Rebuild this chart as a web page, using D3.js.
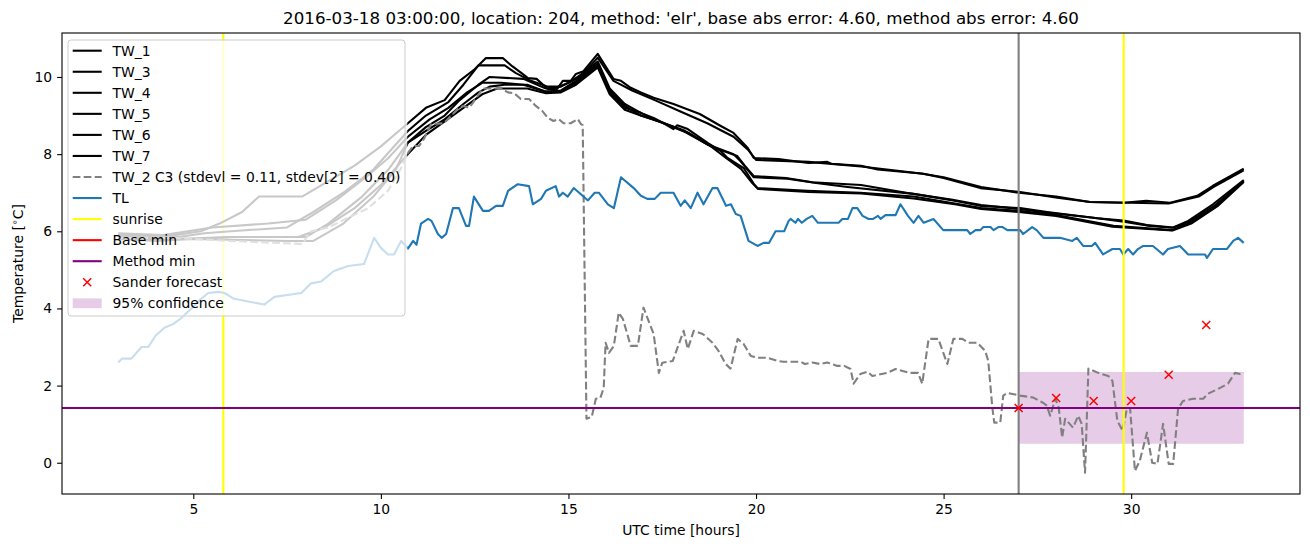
<!DOCTYPE html>
<html>
<head>
<meta charset="utf-8">
<script src="https://cdn.jsdelivr.net/npm/d3@7"></script>
<style>
  body { margin: 0; background: #fff; }
  text { font-family: "DejaVu Sans", sans-serif; fill: #000; }
</style>
</head>
<body>
<div id="VisContainer"></div>
<script>
// ---- data: [hour, temperature] ----
tw1 = [[3,5.9],[4.5,5.9],[5.2,6.0],[5.7,6.2],[6.3,6.5],[6.75,6.9],[7.9,6.9],[8.6,7.3],[9.3,7.7],[10.0,8.2],[10.72,8.8],[11.2,9.2],[11.7,9.4],[12.1,9.9],[12.5,10.2],[12.8,10.49],[13.25,10.49],[13.5,10.28],[13.75,10.1],[13.92,9.97],[14.15,9.95],[14.45,9.69],[14.7,9.69],[14.85,9.9],[15.06,9.9],[15.2,10.08],[15.4,10.15],[15.78,10.6],[16.2,9.95],[16.4,9.9],[16.66,9.72],[16.93,9.6],[17.27,9.46],[17.8,9.3],[18.5,9.04],[19.06,8.73],[19.4,8.55],[19.78,8.16],[19.94,7.9],[20.6,7.87],[21.4,7.77],[21.9,7.8],[22.0,7.75],[22.8,7.7],[23.24,7.6],[24.46,7.49],[25.0,7.38],[25.98,7.12],[27.04,7.02],[28.03,6.87],[28.9,6.76],[29.8,6.74],[30.4,6.79],[31.04,6.74],[31.76,6.92],[32.18,7.18],[33.0,7.62]];
tw3 = [[3,5.85],[4.6,5.85],[5.3,5.95],[6.0,6.0],[7.5,6.1],[8.2,6.5],[9.0,7.0],[9.8,7.6],[10.72,8.6],[11.2,9.0],[11.8,9.35],[12.2,9.8],[12.6,10.3],[13.3,10.3],[13.6,10.1],[14.0,9.9],[14.45,9.75],[14.75,9.75],[15.0,9.85],[15.4,10.1],[15.78,10.5],[16.2,9.9],[16.7,9.65],[17.3,9.4],[18.0,9.1],[18.7,8.8],[19.4,8.45],[19.8,8.1],[20.0,7.85],[21.4,7.8],[22.8,7.68],[24.4,7.5],[25.0,7.4],[26.0,7.15],[27.0,7.0],[28.0,6.9],[28.9,6.76],[31.0,6.72],[31.8,6.9],[32.2,7.15],[33.0,7.58]];
tw4 = [[3,5.8],[5.0,5.8],[6.0,5.85],[8.0,5.85],[8.6,6.2],[9.5,6.9],[10.2,7.6],[10.72,8.3],[11.2,8.7],[11.7,9.0],[12.1,9.4],[12.6,9.8],[12.9,10.0],[13.8,9.95],[14.4,9.7],[14.8,9.75],[15.2,9.95],[15.78,10.4],[16.1,9.7],[16.5,9.3],[16.93,9.07],[17.27,8.9],[18.07,8.62],[18.71,8.25],[19.4,8.0],[19.6,7.8],[19.94,7.4],[20.84,7.36],[21.6,7.25],[22.44,7.15],[24.2,6.97],[25.26,6.8],[25.98,6.66],[27.04,6.6],[27.76,6.5],[29.09,6.34],[29.8,6.28],[30.42,6.16],[31.12,6.1],[31.52,6.27],[32.18,6.7],[33.0,7.33]];
tw5 = [[3,5.95],[4.2,5.9],[5.5,6.1],[7.0,6.2],[8.0,6.3],[8.8,6.8],[9.6,7.4],[10.2,7.9],[10.72,8.45],[11.3,8.9],[11.8,9.2],[12.3,9.6],[12.7,9.85],[13.2,9.85],[13.8,9.8],[14.4,9.62],[14.8,9.65],[15.2,9.9],[15.78,10.35],[16.1,9.65],[16.5,9.25],[16.93,9.0],[17.4,8.85],[18.1,8.58],[18.8,8.2],[19.5,7.95],[19.7,7.7],[19.94,7.43],[20.8,7.38],[21.5,7.27],[22.8,7.2],[24.0,7.0],[25.2,6.82],[26.0,6.68],[27.0,6.58],[27.8,6.48],[29.0,6.35],[29.8,6.25],[30.5,6.14],[31.1,6.09],[31.5,6.22],[32.2,6.65],[33.0,7.3]];
tw6 = [[3,5.8],[4.0,5.75],[5.0,5.8],[7.5,5.75],[8.2,5.75],[9.0,6.2],[9.8,6.9],[10.4,7.6],[10.72,8.3],[11.2,8.6],[11.7,8.9],[12.2,9.3],[12.6,9.6],[12.9,9.75],[13.3,9.8],[13.9,9.8],[14.4,9.62],[14.8,9.62],[15.2,9.85],[15.78,10.3],[16.1,9.6],[16.5,9.2],[16.93,9.07],[17.27,8.94],[17.54,8.8],[17.8,8.65],[17.9,8.75],[18.18,8.65],[18.71,8.29],[19.06,8.08],[19.24,7.9],[19.67,7.64],[19.94,7.23],[20.04,7.12],[21.37,7.05],[22.78,7.0],[24.2,6.9],[25.3,6.72],[26.0,6.6],[27.0,6.53],[28.0,6.42],[29.53,6.14],[31.09,6.03],[31.5,6.19],[32.2,6.6],[33.0,7.3]];
tw7 = [[3,5.9],[4.5,5.8],[6.0,5.85],[7.8,5.85],[8.5,6.1],[9.3,6.6],[10.0,7.2],[10.72,8.0],[11.2,8.5],[11.7,8.85],[12.2,9.2],[12.7,9.55],[13.1,9.7],[13.9,9.7],[14.4,9.58],[14.8,9.6],[15.2,9.8],[15.78,10.25],[16.1,9.55],[16.5,9.15],[16.93,9.0],[17.5,8.82],[18.2,8.55],[18.8,8.2],[19.2,7.9],[19.6,7.62],[19.9,7.25],[20.05,7.1],[21.4,7.02],[22.8,6.98],[24.2,6.85],[25.3,6.7],[26.0,6.58],[27.0,6.5],[28.0,6.4],[29.5,6.12],[31.1,6.02],[31.6,6.2],[32.3,6.65],[33.0,7.28]];
tw2 = [[3.0,5.83],[4.5,5.83],[6.0,5.75],[7.9,5.67],[8.14,6.0],[8.6,6.1],[9.13,6.35],[9.66,6.6],[10.19,7.05],[10.54,7.64],[10.72,8.03],[10.86,8.21],[11.02,8.21],[11.15,8.4],[11.34,8.78],[11.68,8.8],[11.92,9.04],[12.08,9.2],[12.2,9.25],[12.35,9.2],[12.45,9.33],[12.72,9.7],[13.2,9.7],[13.39,9.6],[13.55,9.58],[13.73,9.43],[13.95,9.43],[14.13,9.25],[14.3,9.12],[14.45,8.94],[14.6,8.86],[14.74,8.91],[14.87,8.8],[15.06,8.8],[15.25,8.91],[15.33,8.78],[15.38,8.75],[15.48,1.14],[15.62,1.19],[15.73,1.66],[15.85,1.68],[15.94,1.94],[15.99,3.11],[16.08,2.85],[16.21,3.03],[16.34,3.89],[16.45,3.73],[16.66,3.03],[16.85,3.03],[17.0,4.02],[17.27,3.34],[17.41,2.33],[17.5,2.59],[17.78,2.64],[18.07,3.42],[18.18,2.95],[18.34,3.42],[18.58,3.34],[18.84,3.11],[19.0,2.9],[19.19,2.56],[19.32,2.44],[19.51,3.21],[19.67,3.08],[19.86,2.77],[20.04,2.72],[20.31,2.72],[20.57,2.64],[20.73,2.62],[21.19,2.62],[21.3,2.56],[21.5,2.6],[21.7,2.56],[21.9,2.6],[22.17,2.51],[22.35,2.51],[22.52,2.43],[22.6,2.05],[22.78,2.3],[22.97,2.36],[23.1,2.25],[23.5,2.33],[23.72,2.43],[24.1,2.33],[24.32,2.33],[24.43,2.05],[24.6,3.21],[24.86,3.21],[25.1,2.56],[25.26,3.21],[25.5,3.21],[25.66,3.11],[25.9,3.11],[26.11,2.9],[26.19,2.64],[26.3,1.42],[26.35,1.04],[26.51,1.04],[26.59,1.74],[26.7,1.81],[27.04,1.74],[27.39,1.69],[27.66,1.55],[27.75,1.48],[27.84,1.22],[27.98,1.66],[28.07,1.42],[28.16,0.65],[28.24,1.14],[28.33,1.04],[28.45,0.91],[28.59,1.22],[28.68,1.01],[28.77,-0.26],[28.86,2.44],[29.12,2.33],[29.39,2.25],[29.5,2.12],[29.63,1.09],[29.77,0.83],[29.89,1.42],[29.97,1.42],[30.1,-0.21],[30.23,0.05],[30.42,0.78],[30.56,0.0],[30.7,-0.03],[30.85,1.01],[31.0,-0.03],[31.12,-0.03],[31.25,1.4],[31.38,1.6],[31.65,1.66],[31.92,1.66],[32.05,1.79],[32.37,1.94],[32.58,2.05],[32.77,2.33],[32.9,2.3],[33.0,2.33]];
tl = [[3.0,2.6],[3.1,2.7],[3.35,2.7],[3.62,3.0],[3.8,3.0],[4.0,3.3],[4.23,3.5],[4.47,3.6],[4.68,3.75],[4.95,4.0],[5.21,4.25],[5.4,4.4],[5.67,4.43],[5.83,4.4],[6.09,4.25],[6.89,4.1],[7.16,4.3],[7.88,4.4],[8.14,4.65],[8.41,4.7],[8.75,4.97],[9.13,5.1],[9.55,5.15],[9.82,5.83],[10.0,5.57],[10.19,5.4],[10.35,5.4],[10.54,5.75],[10.72,5.55],[10.86,5.75],[10.95,5.65],[11.07,6.2],[11.26,6.32],[11.35,6.27],[11.52,5.93],[11.62,5.83],[11.74,5.93],[11.92,6.6],[12.08,6.6],[12.27,6.14],[12.35,6.14],[12.48,6.9],[12.72,6.53],[12.88,6.53],[13.07,6.66],[13.25,6.66],[13.39,7.05],[13.65,7.22],[13.95,7.17],[14.05,6.7],[14.27,6.84],[14.4,7.05],[14.66,7.17],[14.75,6.9],[14.85,7.0],[14.98,6.9],[15.14,7.12],[15.4,6.9],[15.52,6.8],[15.7,7.0],[15.81,7.0],[16.05,6.7],[16.21,6.6],[16.4,7.4],[16.74,7.12],[16.93,6.92],[17.1,6.84],[17.3,6.84],[17.46,7.0],[17.8,7.0],[17.99,6.66],[18.1,6.8],[18.26,6.6],[18.44,7.0],[18.6,6.7],[18.84,7.12],[18.97,7.12],[19.2,6.66],[19.33,6.7],[19.46,6.45],[19.59,6.4],[19.8,5.75],[20.04,5.62],[20.2,5.7],[20.35,5.7],[20.52,6.0],[20.75,6.0],[20.87,6.27],[20.92,6.32],[21.05,6.22],[21.12,6.32],[21.22,6.22],[21.35,6.32],[21.5,6.4],[21.65,6.22],[22.2,6.22],[22.3,6.32],[22.45,6.32],[22.57,6.6],[22.7,6.6],[22.84,6.4],[23.0,6.32],[23.12,6.32],[23.25,6.4],[23.32,6.32],[23.45,6.42],[23.72,6.42],[23.85,6.7],[24.05,6.4],[24.2,6.22],[24.33,6.4],[24.47,6.22],[24.73,6.32],[24.99,6.03],[25.63,6.03],[25.71,5.93],[25.85,6.03],[25.98,6.03],[26.06,6.11],[26.25,6.11],[26.33,6.03],[26.46,6.11],[26.57,6.11],[26.7,6.03],[27.04,6.03],[27.12,5.93],[27.36,6.11],[27.48,6.03],[27.66,5.83],[28.1,5.83],[28.43,5.75],[28.55,5.83],[28.72,5.62],[28.95,5.62],[29.04,5.7],[29.25,5.4],[29.5,5.54],[29.7,5.54],[29.79,5.4],[29.92,5.54],[30.05,5.4],[30.18,5.54],[30.32,5.62],[30.58,5.62],[30.85,5.4],[30.98,5.54],[31.3,5.62],[31.52,5.4],[31.97,5.4],[32.02,5.31],[32.18,5.54],[32.55,5.54],[32.72,5.75],[32.85,5.83],[33.0,5.7]];

sunriseHours = [5.8, 29.8];
nowHour = 27;
baseMin = 1.42;
methodMin = 1.42;
sanderHours = [27, 28, 29, 30, 31, 32];
sanderTemps = [1.42, 1.68, 1.6, 1.6, 2.28, 3.57];
confHours = [27, 33];
confLow = [0.49, 0.49];
confHigh = [2.35, 2.35];
fadeUntil = 10.7;   // older part of each series is drawn faded

xTicks = [5, 10, 15, 20, 25, 30];
yTicks = [0, 2, 4, 6, 8, 10];

titleText = "2016-03-18 03:00:00, location: 204, method: 'elr', base abs error: 4.60, method abs error: 4.60";
legendNames = ["TW_1","TW_3","TW_4","TW_5","TW_6","TW_7","TW_2 C3 (stdevl = 0.11, stdev[2] = 0.40)","TL","sunrise","Base min","Method min","Sander forecast","95% confidence"];

// ---- layout ----
W = 1310; H = 547;
margin = {top: 33, right: 10, bottom: 53, left: 62};
width = W - margin.left - margin.right;
height = H - margin.top - margin.bottom;

svg = d3.select("#VisContainer").append("svg")
        .attr("width", W).attr("height", H);

g = svg.append("g")
       .attr("transform", "translate(" + margin.left + "," + margin.top + ")");

x = d3.scaleLinear().domain([1.5, 34.5]).range([0, width]);
y = d3.scaleLinear().domain([-0.81, 11.14]).range([height, 0]);

defs = svg.append("defs");
defs.append("clipPath").attr("id", "clipOld").append("rect")
    .attr("x", 0).attr("width", x(fadeUntil)).attr("height", height);
defs.append("clipPath").attr("id", "clipNew").append("rect")
    .attr("x", x(fadeUntil)).attr("width", width - x(fadeUntil)).attr("height", height);
defs.append("clipPath").attr("id", "clipAll").append("rect")
    .attr("width", width).attr("height", height);

plot = g.append("g").attr("clip-path", "url(#clipAll)");

line = d3.line().x(function(d){return x(d[0]);}).y(function(d){return y(d[1]);});

// confidence band
area = d3.area()
         .x(function(d){return x(d.h);})
         .y0(function(d){return y(d.lo);})
         .y1(function(d){return y(d.hi);});
confData = confHours.map(function(h,i){ return {h: h, lo: confLow[i], hi: confHigh[i]}; });
plot.append("path").datum(confData)
    .attr("d", area).attr("fill", "purple").attr("fill-opacity", 0.2);

// c = colour of the recent part, f = faded colour of the early part
series = [
  {d: tw1, c: "#000", f: "#c8c8c8"}, {d: tw3, c: "#000", f: "#c8c8c8"}, {d: tw4, c: "#000", f: "#c8c8c8"},
  {d: tw5, c: "#000", f: "#c8c8c8"}, {d: tw6, c: "#000", f: "#c8c8c8"}, {d: tw7, c: "#000", f: "#c8c8c8"},
  {d: tw2, c: "#808080", f: "#e0e0e0", dash: "7.7,3.3"},
  {d: tl, c: "#1f77b4", f: "#c8ddee"}
];

function drawSeries(parent, s, clipId, color) {
  parent.append("g").attr("clip-path", "url(#" + clipId + ")")
        .append("path").datum(s.d)
        .attr("d", line)
        .attr("fill", "none")
        .attr("stroke", color)
        .attr("stroke-width", 2.1)
        .attr("stroke-linejoin", "round")
        .attr("stroke-dasharray", s.dash || null);
}

series.forEach(function(s){ drawSeries(plot, s, "clipNew", s.c); });

// vertical markers
sunriseHours.forEach(function(h){
  plot.append("line").attr("x1", x(h)).attr("x2", x(h)).attr("y1", 0).attr("y2", height)
      .attr("stroke", "#ffff00").attr("stroke-width", 2.1);
});
plot.append("line").attr("x1", x(nowHour)).attr("x2", x(nowHour)).attr("y1", 0).attr("y2", height)
    .attr("stroke", "#808080").attr("stroke-width", 2.1);

// horizontal minima
plot.append("line").attr("x1", 0).attr("x2", width).attr("y1", y(baseMin)).attr("y2", y(baseMin))
    .attr("stroke", "red").attr("stroke-width", 2.1);
plot.append("line").attr("x1", 0).attr("x2", width).attr("y1", y(methodMin)).attr("y2", y(methodMin))
    .attr("stroke", "purple").attr("stroke-width", 2.1);

// sander forecast crosses
function cross(sel, cx, cy, r) {
  sel.append("path")
     .attr("d", "M"+(cx-r)+","+(cy-r)+"L"+(cx+r)+","+(cy+r)+"M"+(cx-r)+","+(cy+r)+"L"+(cx+r)+","+(cy-r))
     .attr("stroke", "red").attr("stroke-width", 1.5).attr("fill", "none");
}
sanderHours.forEach(function(h,i){ cross(plot, x(h), y(sanderTemps[i]), 4); });

// ---- axes ----
xAxis = g.append("g").attr("transform", "translate(0," + height + ")")
         .call(d3.axisBottom(x).tickValues(xTicks).tickSize(4.9).tickPadding(4.9));
yAxis = g.append("g")
         .call(d3.axisLeft(y).tickValues(yTicks).tickSize(4.9).tickPadding(4.9));
[xAxis, yAxis].forEach(function(a){
  a.select(".domain").remove();
  a.selectAll("line").attr("stroke", "#000").attr("stroke-width", 1.1);
  a.selectAll("text").attr("font-size", "13.9px").attr("font-family", "DejaVu Sans");
});

g.append("rect").attr("width", width).attr("height", height)
 .attr("fill", "none").attr("stroke", "#000").attr("stroke-width", 1.1);

svg.append("text").attr("x", margin.left + width/2).attr("y", 24)
   .attr("text-anchor", "middle").attr("font-size", "16.7px").text(titleText);

svg.append("text").attr("x", margin.left + width/2).attr("y", 535)
   .attr("text-anchor", "middle").attr("font-size", "13.9px").text("UTC time [hours]");

ylab = svg.append("text").attr("transform", "translate(23," + (margin.top + height/2) + ") rotate(-90)")
          .attr("text-anchor", "middle").attr("font-size", "13.9px");
ylab.append("tspan").text("Temperature [");
ylab.append("tspan").attr("font-size", "9.5px").attr("dy", "-5").text("\u2218");
ylab.append("tspan").attr("dy", "5").text("C]");

// ---- legend ----
legBox = svg.append("rect").attr("x", 68).attr("y", 40)
   .attr("width", 337).attr("height", 276).attr("rx", 3)
   .attr("fill", "#fff").attr("fill-opacity", 0.8)
   .attr("stroke", "#cccccc").attr("stroke-width", 1);

// faded early part sits above the legend frame, as in the original
faded = svg.append("g")
           .attr("transform", "translate(" + margin.left + "," + margin.top + ")");
series.forEach(function(s){ drawSeries(faded, s, "clipOld", s.f); });

leg = svg.append("g").attr("transform", "translate(68,40)");
legendStyle = [
  {c: "#000"}, {c: "#000"}, {c: "#000"}, {c: "#000"}, {c: "#000"}, {c: "#000"},
  {c: "#808080", dash: "7.7,3.3"}, {c: "#1f77b4"}, {c: "#ffff00"}, {c: "red"}, {c: "purple"},
  {cross: true}, {patch: true}
];
legendNames.forEach(function(name, i){
  var yy = 10.7 + i * 21.05;
  var st = legendStyle[i];
  var row = leg.append("g").attr("transform", "translate(0," + yy + ")");
  if (st.cross) {
    cross(row, 19.2, 0, 4);
  } else if (st.patch) {
    row.append("rect").attr("x", 4.7).attr("y", -4.9).attr("width", 29).attr("height", 9.8)
       .attr("fill", "purple").attr("fill-opacity", 0.2);
  } else {
    row.append("line").attr("x1", 4.7).attr("x2", 33.7).attr("y1", 0).attr("y2", 0)
       .attr("stroke", st.c).attr("stroke-width", 2.1).attr("stroke-dasharray", st.dash || null);
  }
  row.append("text").attr("x", 44.5).attr("y", 0).attr("dy", "0.36em")
     .attr("font-size", "13.9px").text(name);
});
</script>
</body>
</html>
